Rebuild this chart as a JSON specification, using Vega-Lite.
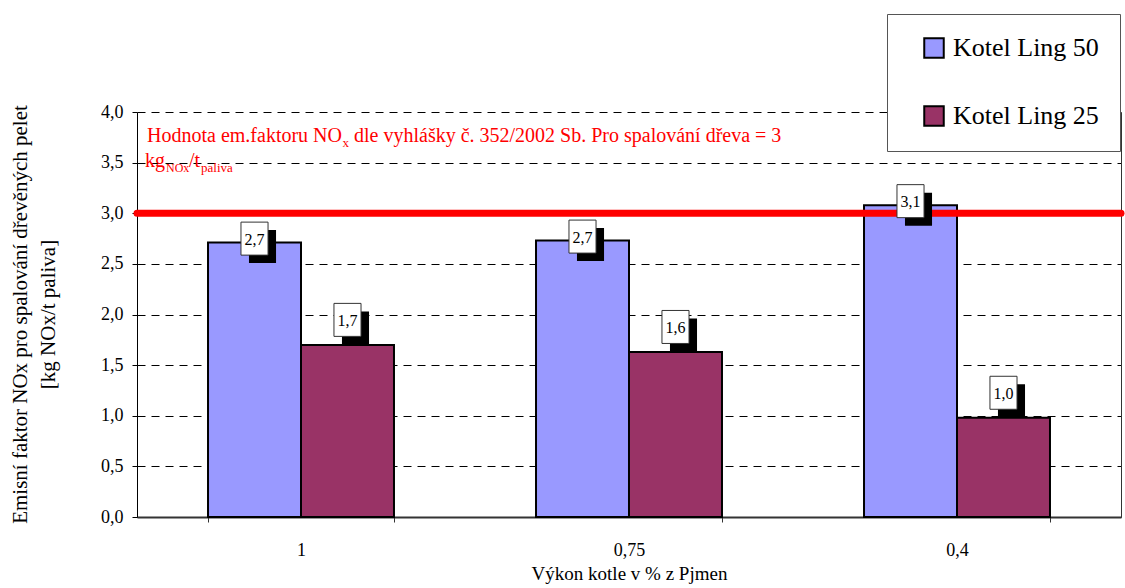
{
  "$schema": "https://vega.github.io/schema/vega-lite/v6.json",
  "width": 984,
  "height": 405,
  "autosize": {"type": "none"},
  "padding": {"left": 137, "top": 112, "right": 4, "bottom": 71},
  "background": "white",
  "config": {
    "locale": {"number": {"decimal": ",", "thousands": " ", "grouping": [3], "currency": ["", " Kč"]}},
    "font": "Liberation Serif",
    "view": {"stroke": null},
    "style": {"guide-label": {"font": "Liberation Serif"}, "guide-title": {"font": "Liberation Serif"}},
    "axis": {"labelFont": "Liberation Serif", "titleFont": "Liberation Serif", "labelColor": "black", "titleColor": "black", "titleFontWeight": "normal", "tickColor": "black", "domainColor": "black"},
    "legend": {"labelFont": "Liberation Serif"}
  },
  "datasets": {
    "main": [
      {"vykon": "1", "kotel": "Kotel Ling 50", "value": 2.71},
      {"vykon": "1", "kotel": "Kotel Ling 25", "value": 1.70},
      {"vykon": "0,75", "kotel": "Kotel Ling 50", "value": 2.73},
      {"vykon": "0,75", "kotel": "Kotel Ling 25", "value": 1.63},
      {"vykon": "0,4", "kotel": "Kotel Ling 50", "value": 3.08},
      {"vykon": "0,4", "kotel": "Kotel Ling 25", "value": 0.98}
    ],
    "limit": [{"limit": 3}]
  },
  "layer": [
    {
      "data": {"name": "main"},
      "mark": {"type": "bar", "stroke": "black", "strokeWidth": 2},
      "encoding": {
        "x": {
          "field": "vykon", "type": "nominal", "sort": ["1", "0,75", "0,4"],
          "scale": {"paddingInner": 0.433, "paddingOuter": 0.2165},
          "title": "Výkon kotle v % z Pjmen",
          "axis": {"labelAngle": 0, "labelFont": "Liberation Serif", "labelFontSize": 18, "labelPadding": 19, "tickSize": 5, "tickBand": "extent", "domainColor": "#333", "domainWidth": 2, "tickColor": "#333", "titleFont": "Liberation Serif", "titleFontSize": 19, "titleY": 62, "titleBaseline": "alphabetic", "grid": false}
        },
        "xOffset": {"field": "kotel", "type": "nominal", "sort": ["Kotel Ling 50", "Kotel Ling 25"], "scale": {"paddingInner": 0, "paddingOuter": 0}},
        "y": {
          "field": "value", "type": "quantitative",
          "scale": {"domain": [0, 4], "nice": false},
          "axis": {
            "values": [0, 0.5, 1, 1.5, 2, 2.5, 3, 3.5, 4], "format": ".1f",
            "labelFont": "Liberation Serif", "labelFontSize": 18, "labelPadding": 9, "tickSize": 5,
            "grid": true, "gridDash": [8, 6], "gridColor": "black", "gridWidth": 1,
            "title": ["Emisní faktor NOx pro spalování dřevěných pelet", "[kg NOx/t paliva]"],
            "titleFont": "Liberation Serif", "titleFontSize": 21, "titleAngle": -90, "titleX": -128, "titleY": 202, "titleBaseline": "top", "titleAlign": "center", "titleLineHeight": 28
          }
        },
        "color": {
          "field": "kotel", "type": "nominal",
          "scale": {"domain": ["Kotel Ling 50", "Kotel Ling 25"], "range": ["#9999FF", "#993366"]},
          "legend": {
            "orient": "none", "legendX": 750, "legendY": -98, "title": null,
            "padding": 21, "symbolOffset": 13, "labelOffset": 6, "labelFontSize": 26, "labelFont": "Liberation Serif", "labelColor": "black",
            "rowPadding": 40, "fillColor": "white", "strokeColor": "#555",
            "symbolType": "square", "symbolSize": 380, "symbolStrokeColor": "black", "symbolStrokeWidth": 2
          }
        }
      }
    },
    {
      "data": {"name": "limit"},
      "mark": {"type": "rule", "color": "#FF0000", "strokeWidth": 7, "strokeCap": "round"},
      "encoding": {
        "y": {"field": "limit", "type": "quantitative", "axis": {"orient": "right", "labels": false, "ticks": false, "grid": false, "domain": true, "domainColor": "#333", "title": null}}
      }
    },
    {
      "data": {"name": "main"},
      "transform": [{"filter": "datum.kotel === 'Kotel Ling 50'"}],
      "layer": [
        {"mark": {"type": "point", "shape": "M-0.335,-0.515H1.305V1.485H-0.335Z", "size": 1089, "filled": true, "fill": "black", "strokeWidth": 0, "opacity": 1, "yOffset": -4}},
        {"mark": {"type": "point", "shape": "M-0.82,-1H0.82V1H-0.82Z", "size": 1089, "filled": true, "fill": "white", "stroke": "#333", "strokeWidth": 1, "opacity": 1, "yOffset": -4}},
        {"mark": {"type": "text", "font": "Liberation Serif", "fontSize": 16, "color": "black", "baseline": "middle", "dy": -3}, "encoding": {"text": {"field": "value", "type": "quantitative", "format": ".1f"}}}
      ],
      "encoding": {
        "x": {"field": "vykon", "type": "nominal", "sort": ["1", "0,75", "0,4"], "axis": null},
        "xOffset": {"field": "kotel", "type": "nominal", "sort": ["Kotel Ling 50", "Kotel Ling 25"]},
        "y": {"field": "value", "type": "quantitative", "axis": null}
      },
      "resolve": {"axis": {"x": "independent", "y": "independent"}}
    },
    {
      "data": {"name": "main"},
      "transform": [{"filter": "datum.kotel === 'Kotel Ling 25'"}],
      "layer": [
        {"mark": {"type": "point", "shape": "M-0.335,-0.515H1.305V1.485H-0.335Z", "size": 1089, "filled": true, "fill": "black", "strokeWidth": 0, "opacity": 1, "yOffset": -25}},
        {"mark": {"type": "point", "shape": "M-0.82,-1H0.82V1H-0.82Z", "size": 1089, "filled": true, "fill": "white", "stroke": "#333", "strokeWidth": 1, "opacity": 1, "yOffset": -25}},
        {"mark": {"type": "text", "font": "Liberation Serif", "fontSize": 16, "color": "black", "baseline": "middle", "dy": -24}, "encoding": {"text": {"field": "value", "type": "quantitative", "format": ".1f"}}}
      ],
      "encoding": {
        "x": {"field": "vykon", "type": "nominal", "sort": ["1", "0,75", "0,4"], "axis": null},
        "xOffset": {"field": "kotel", "type": "nominal", "sort": ["Kotel Ling 50", "Kotel Ling 25"]},
        "y": {"field": "value", "type": "quantitative", "axis": null}
      },
      "resolve": {"axis": {"x": "independent", "y": "independent"}}
    },
    {
      "data": {"name": "limit"},
      "encoding": {
        "x": {"datum": "1", "type": "nominal", "bandPosition": 0, "axis": null},
        "y": {"field": "limit", "type": "quantitative", "axis": null}
      },
      "layer": [
        {"mark": {"type": "text", "text": "Hodnota em.faktoru NO", "font": "Liberation Serif", "fontSize": 20, "color": "#FF0000", "align": "right", "baseline": "alphabetic", "dx": 134, "dy": -71}},
        {"mark": {"type": "text", "text": "x", "font": "Liberation Serif", "fontSize": 13, "color": "#FF0000", "align": "left", "baseline": "alphabetic", "dx": 134.5, "dy": -66}},
        {"mark": {"type": "text", "text": "dle vyhlášky č. 352/2002 Sb. Pro spalování dřeva = 3", "font": "Liberation Serif", "fontSize": 20, "color": "#FF0000", "align": "left", "baseline": "alphabetic", "dx": 146, "dy": -71}},
        {"mark": {"type": "text", "text": "kg", "font": "Liberation Serif", "fontSize": 20, "color": "#FF0000", "align": "left", "baseline": "alphabetic", "dx": -63, "dy": -46}},
        {"mark": {"type": "text", "text": "NOx", "font": "Liberation Serif", "fontSize": 12, "color": "#FF0000", "align": "left", "baseline": "alphabetic", "dx": -42, "dy": -41}},
        {"mark": {"type": "text", "text": "/t", "font": "Liberation Serif", "fontSize": 20, "color": "#FF0000", "align": "left", "baseline": "alphabetic", "dx": -19, "dy": -46}},
        {"mark": {"type": "text", "text": "paliva", "font": "Liberation Serif", "fontSize": 13, "color": "#FF0000", "align": "left", "baseline": "alphabetic", "dx": -7, "dy": -41}}
      ],
      "resolve": {"axis": {"x": "independent", "y": "independent"}}
    }
  ],
  "resolve": {"axis": {"x": "independent", "y": "independent"}}
}
